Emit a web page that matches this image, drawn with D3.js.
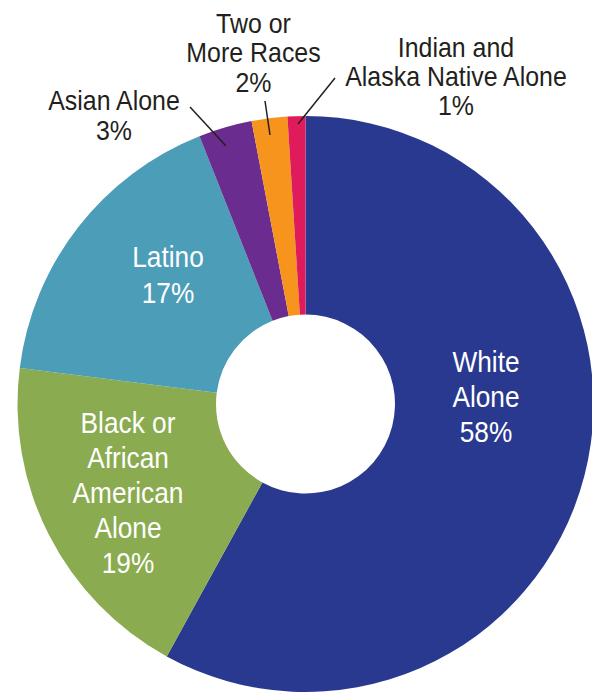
<!DOCTYPE html>
<html>
<head>
<meta charset="utf-8">
<script src="https://cdn.jsdelivr.net/npm/d3@7"></script>
<style>
  body { margin: 0; background: #fff; }
  svg { display: block; font-family: "Liberation Sans", Arial, sans-serif; }
</style>
</head>
<body>
<div id="chart"></div>
<script>
// Shares of population by race / ethnicity
const groups = ["White Alone", "Black or African American Alone", "Latino", "Asian Alone", "Two or More Races", "Indian and Alaska Native Alone"];
const shares = [58, 19, 17, 3, 2, 1];
const colors = ["#2a3990", "#8aab50", "#4c9db8", "#6a2d8f", "#f7941d", "#e01b5b"];

// label text lines, in the same order as the groups
const labelLines = [
  ["White", "Alone", "58%"],
  ["Black or", "African", "American", "Alone", "19%"],
  ["Latino", "17%"],
  ["Asian Alone", "3%"],
  ["Two or", "More Races", "2%"],
  ["Indian and", "Alaska Native Alone", "1%"]
];

const width = 592, height = 692;
const cx = 305.5, cy = 404, outerR = 288, innerR = 89.5;
const squeeze = 0.89; // condensed look for the labels

// label placement: x center, first baseline, line step, font size, inside slice?
const labelLayout = [
  { x: 486, y: 372, step: 35, size: 29.5, inside: true },
  { x: 128, y: 433, step: 35, size: 29.5, inside: true },
  { x: 168, y: 267, step: 36, size: 29.5, inside: true },
  { x: 114, y: 110, step: 30, size: 28, inside: false, line: [[190, 107], [226, 146]] },
  { x: 253.5, y: 33, step: 29.5, size: 28, inside: false, line: [[265, 101], [270, 135]] },
  { x: 456, y: 57, step: 29, size: 28, inside: false, line: [[335, 78], [298, 124]] }
];

const data = groups.map((g, i) => ({ group: g, value: shares[i], color: colors[i] }));

const svg = d3.select("#chart").append("svg")
  .attr("width", width)
  .attr("height", height);

const pie = d3.pie()
  .sort(null)
  .value(d => d.value);

const arc = d3.arc()
  .innerRadius(innerR)
  .outerRadius(outerR);

const g = svg.append("g").attr("transform", `translate(${cx},${cy})`);

g.selectAll("path")
  .data(pie(data))
  .enter().append("path")
  .attr("d", arc)
  .attr("fill", d => d.data.color);

// leader lines for the small slices
labelLayout.forEach(l => {
  if (!l.line) return;
  svg.append("line")
    .attr("x1", l.line[0][0]).attr("y1", l.line[0][1])
    .attr("x2", l.line[1][0]).attr("y2", l.line[1][1])
    .attr("stroke", "#231f20")
    .attr("stroke-width", 1.5);
});

// labels
labelLines.forEach((lines, i) => {
  const l = labelLayout[i];
  const t = svg.append("text")
    .attr("transform", `translate(${l.x},0) scale(${squeeze},1)`)
    .attr("text-anchor", "middle")
    .attr("font-size", l.size)
    .attr("fill", l.inside ? "#ffffff" : "#231f20");
  lines.forEach((s, j) => {
    t.append("tspan")
      .attr("x", 0)
      .attr("y", l.y + j * l.step)
      .text(s);
  });
});
</script>
</body>
</html>
